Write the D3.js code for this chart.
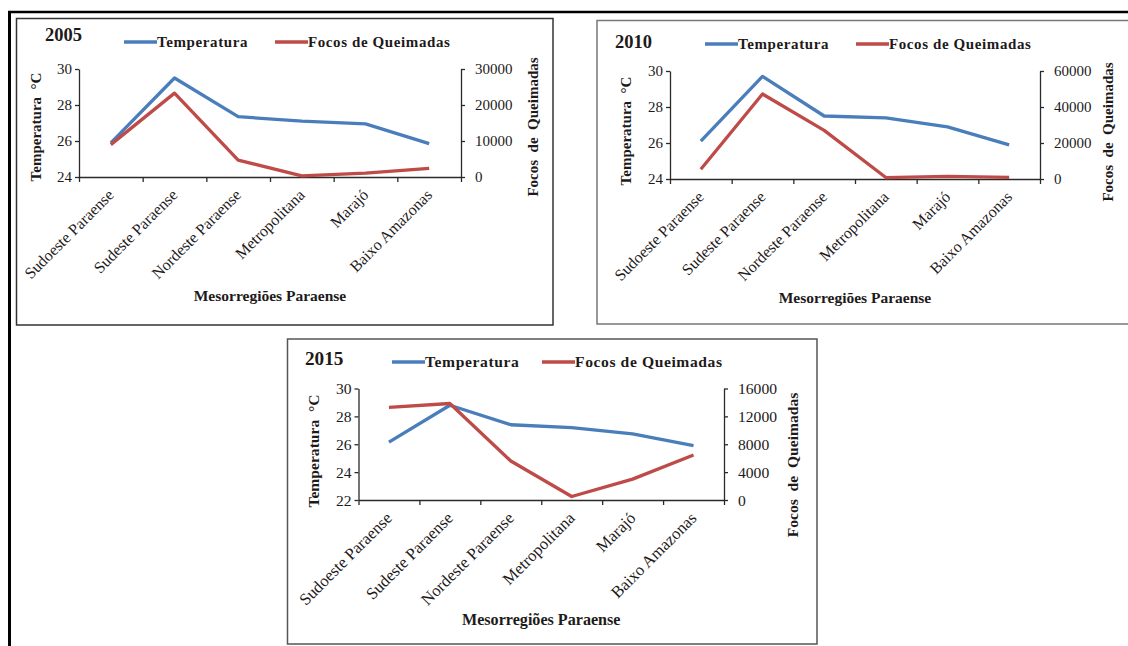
<!DOCTYPE html>
<html>
<head>
<meta charset="utf-8">
<script src="https://cdn.jsdelivr.net/npm/d3@7"></script>
<style>
  html, body { margin: 0; padding: 0; background: #fff; }
  svg { display: block; }
  text { font-family: "Liberation Serif", "Times New Roman", serif; fill: #1e1a1a; white-space: pre; }
</style>
</head>
<body>
<svg id="chart" width="1128" height="646"></svg>
<script>
// Mesorregiões do Pará
const regioes = ["Sudoeste Paraense", "Sudeste Paraense", "Nordeste Paraense", "Metropolitana", "Marajó", "Baixo Amazonas"];

// Temperatura média (°C) e focos de queimadas por ano
const temp2005 = [25.9, 29.5, 27.35, 27.1, 26.95, 25.85];
const focos2005 = [9000, 23300, 4700, 300, 1100, 2400];
const temp2010 = [26.1, 29.7, 27.5, 27.4, 26.9, 25.9];
const focos2010 = [5400, 47200, 27000, 800, 1500, 900];
const temp2015 = [26.15, 28.8, 27.4, 27.2, 26.75, 25.9];
const focos2015 = [13300, 13850, 5600, 500, 3000, 6450];

// Marcas dos eixos
const tempTicks2005 = [24, 26, 28, 30];
const focosTicks2005 = [0, 10000, 20000, 30000];
const tempTicks2010 = [24, 26, 28, 30];
const focosTicks2010 = [0, 20000, 40000, 60000];
const tempTicks2015 = [22, 24, 26, 28, 30];
const focosTicks2015 = [0, 4000, 8000, 12000, 16000];

const legendLabels = ["Temperatura", "Focos de Queimadas"];
const COR_TEMP = "#4a7ebb";
const COR_FOCOS = "#be4b48";

const svg = d3.select("#chart");

// Moldura externa
svg.append("line").attr("x1", 8).attr("x2", 1128).attr("y1", 12).attr("y2", 12)
  .attr("stroke", "#000").attr("stroke-width", 2.5);
svg.append("line").attr("x1", 9.5).attr("x2", 9.5).attr("y1", 11).attr("y2", 646)
  .attr("stroke", "#000").attr("stroke-width", 3);

function painel(cfg) {
  const fs = cfg.fs;
  const g = svg.append("g");
  g.append("rect")
    .attr("x", cfg.box[0]).attr("y", cfg.box[1])
    .attr("width", cfg.box[2] - cfg.box[0]).attr("height", cfg.box[3] - cfg.box[1])
    .attr("fill", "#fff").attr("stroke", cfg.boxColor).attr("stroke-width", 1.5);

  const [x0, x1] = cfg.px;
  const [yTop, yBot] = cfg.py;

  const xBand = d3.scaleBand().domain(regioes).range([x0, x1]).padding(0);
  const xIdx = d3.scaleLinear().domain([0, regioes.length]).range([x0, x1]);
  const yT = d3.scaleLinear().domain(d3.extent(cfg.tTicks)).range([yBot, yTop]);
  const yF = d3.scaleLinear().domain(d3.extent(cfg.fTicks)).range([yBot, yTop]);

  const axisStyle = sel => {
    sel.select(".domain").attr("stroke", "#2a2a2a").attr("stroke-width", 1.3);
    sel.selectAll(".tick line").attr("stroke", "#2a2a2a").attr("stroke-width", 1.3);
    sel.selectAll("text").style("font-size", (fs * 15) + "px").attr("fill", "#1e1a1a");
  };

  // Eixo esquerdo (temperatura)
  g.append("g").attr("transform", `translate(${x0},0)`)
    .call(d3.axisLeft(yT).tickValues(cfg.tTicks).tickSize(4).tickSizeOuter(0).tickPadding(3).tickFormat(d3.format("d")))
    .call(axisStyle);

  // Eixo direito (focos)
  g.append("g").attr("transform", `translate(${x1},0)`)
    .call(d3.axisRight(yF).tickValues(cfg.fTicks).tickSize(4).tickSizeOuter(0).tickPadding(10).tickFormat(d3.format("d")))
    .call(axisStyle);

  // Eixo das categorias
  g.append("g").attr("transform", `translate(0,${yBot})`)
    .call(d3.axisBottom(xIdx).tickValues(d3.range(regioes.length + 1)).tickSize(5).tickSizeOuter(0).tickFormat(""))
    .call(axisStyle);

  // Rótulos das categorias
  g.append("g").selectAll("text").data(regioes).join("text")
    .attr("transform", d => `translate(${xBand(d) + xBand.bandwidth() / 2},${yBot + 15}) rotate(-45)`)
    .attr("text-anchor", "end").attr("dy", "0.35em")
    .style("font-size", (fs * 16) + "px")
    .text(d => d);

  // Linhas
  const cx = i => xBand(regioes[i]) + xBand.bandwidth() / 2;
  const lineT = d3.line().x((d, i) => cx(i)).y(d => yT(d));
  const lineF = d3.line().x((d, i) => cx(i)).y(d => yF(d));
  g.append("path").datum(cfg.temp).attr("d", lineT)
    .attr("fill", "none").attr("stroke", COR_TEMP).attr("stroke-width", 3.3).attr("stroke-linejoin", "round");
  g.append("path").datum(cfg.focos).attr("d", lineF)
    .attr("fill", "none").attr("stroke", COR_FOCOS).attr("stroke-width", 3.3).attr("stroke-linejoin", "round");

  // Títulos dos eixos
  g.append("text")
    .attr("transform", `translate(${cfg.leftTitleX},${cfg.leftTitleY}) rotate(-90)`)
    .attr("text-anchor", "middle").attr("dy", "0.35em")
    .style("font-size", (fs * 15) + "px").style("font-weight", "bold")
    .text("Temperatura  °C");
  g.append("text")
    .attr("transform", `translate(${cfg.rightTitleX},${cfg.rightTitleY}) rotate(-90)`)
    .attr("text-anchor", "middle").attr("dy", "0.35em")
    .style("font-size", (fs * 15) + "px").style("font-weight", "bold")
    .text("Focos  de  Queimadas");
  g.append("text")
    .attr("x", (x0 + x1) / 2).attr("y", cfg.xTitleY)
    .attr("text-anchor", "middle")
    .style("font-size", (fs * 15.5) + "px").style("font-weight", "bold")
    .text("Mesorregiões Paraense");

  // Ano
  g.append("text").attr("x", cfg.ano[1]).attr("y", cfg.ano[2])
    .style("font-size", (fs * 18.5) + "px").style("font-weight", "bold")
    .text(cfg.ano[0]);

  // Legenda
  const leg = [[COR_TEMP, legendLabels[0]], [COR_FOCOS, legendLabels[1]]];
  leg.forEach(([cor, rot], k) => {
    const lx = cfg.legX[k];
    g.append("line").attr("x1", lx).attr("x2", lx + 33)
      .attr("y1", cfg.legY).attr("y2", cfg.legY)
      .attr("stroke", cor).attr("stroke-width", 3.3);
    g.append("text").attr("x", lx + 33).attr("y", cfg.legY).attr("dy", "0.35em")
      .style("font-size", (fs * 15) + "px").style("font-weight", "bold").style("letter-spacing", "0.6px")
      .text(rot);
  });
}

painel({
  box: [16.5, 18.5, 553, 325], boxColor: "#333", fs: 1,
  px: [79, 461], py: [69, 177],
  temp: temp2005, focos: focos2005, tTicks: tempTicks2005, fTicks: focosTicks2005,
  leftTitleX: 36, leftTitleY: 127, rightTitleX: 533, rightTitleY: 127, xTitleY: 301,
  ano: ["2005", 45, 41], legX: [124, 275], legY: 42
});

painel({
  box: [597, 20.5, 1135, 324], boxColor: "#777", fs: 1,
  px: [670, 1040], py: [71, 179],
  temp: temp2010, focos: focos2010, tTicks: tempTicks2010, fTicks: focosTicks2010,
  leftTitleX: 626, leftTitleY: 131, rightTitleX: 1108, rightTitleY: 132, xTitleY: 303,
  ano: ["2010", 615, 48], legX: [705, 856], legY: 44
});

painel({
  box: [287.5, 339, 817, 644], boxColor: "#555", fs: 1.04,
  px: [358.5, 724], py: [388.5, 500],
  temp: temp2015, focos: focos2015, tTicks: tempTicks2015, fTicks: focosTicks2015,
  leftTitleX: 314, leftTitleY: 451, rightTitleX: 793, rightTitleY: 465, xTitleY: 625,
  ano: ["2015", 305, 365], legX: [392, 542], legY: 362
});
</script>
</body>
</html>
